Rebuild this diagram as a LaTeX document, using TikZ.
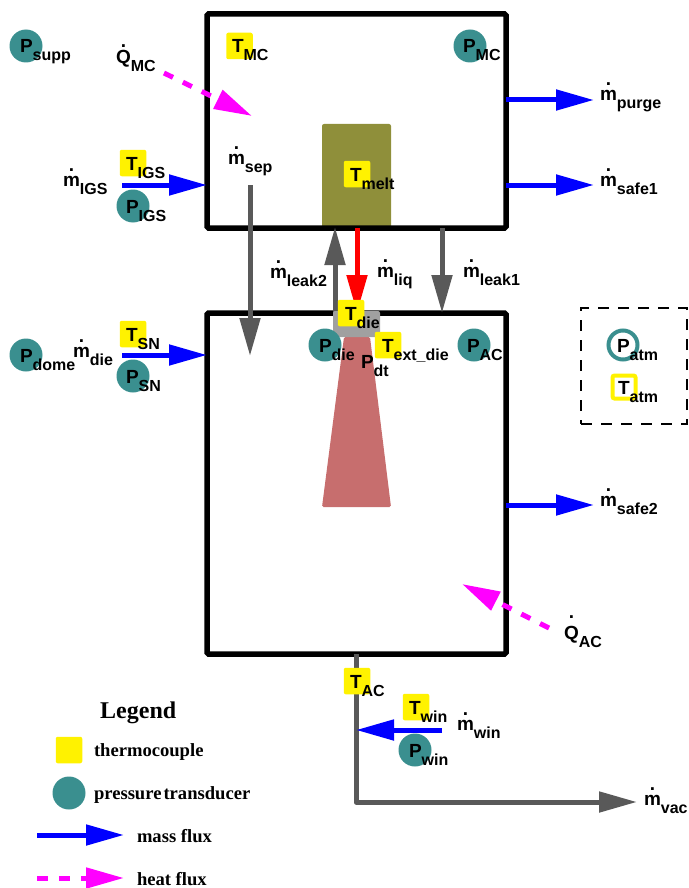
\documentclass[tikz,border=0pt]{standalone}
\usepackage{fontspec}
\setmainfont{Liberation Sans}
\newfontfamily\legendfont{Liberation Serif}
\usetikzlibrary{arrows.meta}
\definecolor{gauge}{HTML}{3A8F8F}
\definecolor{melt}{HTML}{8F8F3A}
\definecolor{plume}{HTML}{C76E6E}
\definecolor{pipe}{HTML}{595959}
\definecolor{diecol}{HTML}{A0A0A0}
\definecolor{heat}{HTML}{FF00FF}
\newcommand{\sens}[2]{\fontsize{19}{19}\selectfont #1\raisebox{-8pt}{\fontsize{16}{16}\selectfont #2}}
\newcommand{\rate}[3]{\fontsize{19}{19}\selectfont\ooalign{\hidewidth\raisebox{#3}{.}\hidewidth\cr#1\cr}\raisebox{-8pt}{\fontsize{16}{16}\selectfont #2}}
\begin{document}
\begin{tikzpicture}[x=1pt,y=-1pt,
chamber/.style={draw,line width=5.5pt,rounded corners=1.5pt,inner sep=0pt,outer sep=0pt},
tcbox/.style={fill=yellow,rounded corners=2pt,minimum size=26.5pt,inner sep=0pt,outer sep=0pt},
ptcirc/.style={circle,fill=gauge,minimum size=33pt,inner sep=0pt,outer sep=0pt},
sym/.style={anchor=base west,inner sep=0pt,outer sep=0pt,font=\bfseries},
legtext/.style={anchor=base west,inner sep=0pt,outer sep=0pt,font=\legendfont\bfseries\fontsize{18.6}{18.6}\selectfont},
massflux/.style={-{Triangle[length=38pt,width=20pt]},line width=5pt,blue},
leakflux/.style={-{Triangle[length=38pt,width=20pt]},line width=5pt,pipe},
heatflux/.style={-{Triangle[length=38pt,width=20pt]},line width=5pt,heat,dash pattern=on 10pt off 11pt}]
\useasboundingbox (0,0) rectangle (688,888);
\node[fill=melt,rounded corners=2pt,minimum width=69pt,minimum height=104pt,inner sep=0pt] (meltblock) at (356.5,176) {};
\fill[plume,rounded corners=1.5pt] (344,337)--(370,337)--(391,507)--(322,507)--cycle;
\node[chamber,minimum width=299pt,minimum height=214pt] (mc) at (356.5,121) {};
\node[chamber,minimum width=299pt,minimum height=341pt] (ac) at (356.5,483.5) {};
\node[draw,line width=2.8pt,dash pattern=on 11pt off 9pt,minimum width=106pt,minimum height=116pt,inner sep=0pt,outer sep=0pt] (atmbox) at (634,366) {};
\coordinate (igsin) at (122,185);
\coordinate (snin) at (122,355);
\coordinate (purgeout) at (594,100);
\coordinate (safeoneout) at (594,185);
\coordinate (safetwoout) at (594,505);
\coordinate (septop) at (250,185);
\coordinate (sepend) at (250,356);
\coordinate (leaktwo) at (335,227);
\coordinate (liq) at (357,228);
\coordinate (leakone) at (442,228);
\coordinate (winstart) at (442,730);
\coordinate (vacstart) at (356,654);
\coordinate (vacend) at (637,802);
\coordinate (qmcstart) at (164,73);
\coordinate (qmcend) at (252,116);
\coordinate (qacstart) at (549,628);
\coordinate (qacend) at (462,584);
\draw[massflux] (igsin)--(igsin -| mc.west);
\draw[massflux] (snin)--(snin -| ac.west);
\draw[massflux] (purgeout -| mc.east)--(purgeout);
\draw[massflux] (safeoneout -| mc.east)--(safeoneout);
\draw[massflux] (safetwoout -| ac.east)--(safetwoout);
\draw[leakflux] (septop)--(sepend);
\draw[leakflux] (leaktwo |- ac.north)--(leaktwo);
\draw[-{Triangle[length=38pt,width=20pt]},line width=5pt,red] (liq)--(liq |- ac.north);
\draw[leakflux] (leakone)--(leakone |- ac.north);
\draw[leakflux,line join=round] (vacstart)--(vacstart |- vacend)--(vacend);
\draw[massflux] (winstart)--(winstart -| vacstart);
\draw[heatflux] (qmcstart)--(qmcend);
\draw[heatflux] (qacstart)--(qacend);
\node[fill=diecol,rounded corners=2pt,minimum width=47pt,minimum height=26pt,inner sep=0pt] (die) at (356.5,324) {};
\node[ptcirc] (psupp) at (26,46) {};
\node[sym] (psupplab) at (20,53) {\sens{P}{supp}};
\node[tcbox] (tmc) at (239.5,46) {};
\node[sym] (tmclab) at (232,53) {\sens{T}{MC}};
\node[ptcirc] (pmc) at (470,46) {};
\node[sym] (pmclab) at (463,53) {\sens{P}{MC}};
\node[sym] (qmclab) at (116,64) {\rate{Q}{MC}{16pt}};
\node[sym] (mseplab) at (228,164) {\rate{m}{sep}{15pt}};
\node[tcbox] (tigs) at (133,163) {};
\node[sym] (tigslab) at (126,170) {\sens{T}{IGS}};
\node[ptcirc] (pigs) at (133,206) {};
\node[sym] (pigslab) at (126,213) {\sens{P}{IGS}};
\node[sym] (migslab) at (63,186) {\rate{m}{IGS}{15pt}};
\node[sym] (mleaktwolab) at (270,278) {\rate{m}{leak2}{15pt}};
\node[sym] (mliqlab) at (377,277) {\rate{m}{liq}{15pt}};
\node[sym] (mleakonelab) at (463,277) {\rate{m}{leak1}{15pt}};
\node[tcbox] (tmelt) at (357,174) {};
\node[sym] (tmeltlab) at (350,181) {\sens{T}{melt}};
\node[tcbox] (tdie) at (351,313) {};
\node[sym] (tdielab) at (345,320) {\sens{T}{die}};
\node[ptcirc] (pdie) at (325,345) {};
\node[sym] (pdielab) at (319,352) {\sens{P}{die}};
\node[tcbox] (text) at (388,345) {};
\node[sym] (textlab) at (382,352) {\sens{T}{ext\_die}};
\node[sym] (pdtlab) at (361,368) {\sens{P}{dt}};
\node[ptcirc] (pac) at (474,345) {};
\node[sym] (paclab) at (467,352) {\sens{P}{AC}};
\node[ptcirc] (pdome) at (26,355) {};
\node[sym] (pdomelab) at (20,362) {\sens{P}{dome}};
\node[sym] (mdielab) at (73,357) {\rate{m}{die}{15pt}};
\node[tcbox] (tsn) at (133,334) {};
\node[sym] (tsnlab) at (126,341) {\sens{T}{SN}};
\node[ptcirc] (psn) at (133,376) {};
\node[sym] (psnlab) at (126,383) {\sens{P}{SN}};
\node[sym] (mpurgelab) at (600,101) {\rate{m}{purge}{15pt}};
\node[sym] (msafeonelab) at (600,186) {\rate{m}{safe1}{15pt}};
\node[sym] (msafetwolab) at (600,506) {\rate{m}{safe2}{15pt}};
\node[draw=gauge,circle,line width=4pt,minimum size=29pt,inner sep=0pt,outer sep=0pt] (patm) at (623,345) {};
\node[sym] (patmlab) at (617,352) {\sens{P}{atm}};
\node[draw=yellow,rounded corners=2pt,line width=4pt,minimum size=23pt,inner sep=0pt,outer sep=0pt] (tatm) at (624,387) {};
\node[sym] (tatmlab) at (618,394) {\sens{T}{atm}};
\node[sym] (qaclab) at (564,639) {\rate{Q}{AC}{21pt}};
\node[tcbox] (tac) at (357,681) {};
\node[sym] (taclab) at (350,688) {\sens{T}{AC}};
\node[tcbox] (twin) at (416,707) {};
\node[sym] (twinlab) at (409,714) {\sens{T}{win}};
\node[ptcirc] (pwin) at (415,750) {};
\node[sym] (pwinlab) at (409,757) {\sens{P}{win}};
\node[sym] (mwinlab) at (457,730) {\rate{m}{win}{15pt}};
\node[sym] (mvaclab) at (644,805) {\rate{m}{vac}{15pt}};
\node[anchor=base west,inner sep=0pt,font=\legendfont\bfseries\fontsize{24}{24}\selectfont] (legendtitle) at (100,718) {Legend};
\node[tcbox] (legtc) at (69,750) {};
\node[legtext] (legtclab) at (94,756) {thermocouple};
\node[ptcirc] (legpt) at (69,793) {};
\node[legtext] (legptlab) at (94,799) {\spaceskip=2pt\relax pressure transducer};
\coordinate (legmassa) at (37,835);
\coordinate (legmassb) at (124,835);
\coordinate (legheata) at (37,878);
\coordinate (legheatb) at (124,878);
\draw[massflux] (legmassa)--(legmassb);
\draw[heatflux,dash pattern=on 11pt off 11pt] (legheata)--(legheatb);
\node[legtext] (legmasslab) at (137,842) {mass flux};
\node[legtext] (legheatlab) at (137,885) {heat flux};
\end{tikzpicture}
\end{document}
